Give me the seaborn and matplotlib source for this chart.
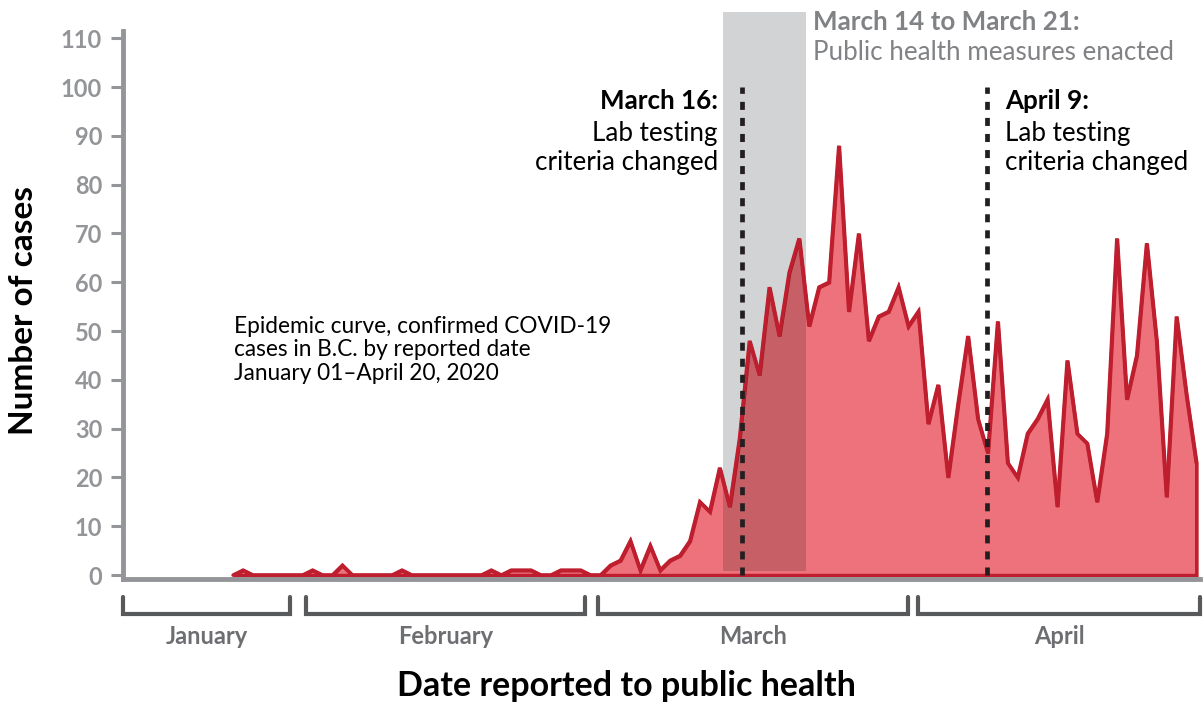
import numpy as np
import pandas as pd
import seaborn as sns
import matplotlib.pyplot as plt
from matplotlib.patches import Rectangle
from matplotlib.lines import Line2D

sns.set_theme(style='white')
plt.rcParams['font.family'] = ['Lato', 'DejaVu Sans']

# daily confirmed cases, day index 13 .. 110 (day 0 = January 1)
first_day = 13
cases = [0, 1, 0, 0, 0, 0, 0, 0, 1, 0, 0, 2, 0, 0, 0, 0, 0, 1, 0, 0,
         0, 0, 0, 0, 0, 0, 1, 0, 1, 1, 1, 0, 0, 1, 1, 1, 0, 0, 2, 3,
         7, 1, 6, 1, 3, 4, 7, 15, 13, 22, 14, 28, 48, 41, 59, 49, 62, 69, 51, 59,
         60, 88, 54, 70, 48, 53, 54, 59, 51, 54, 31, 39, 20, 35, 49, 32, 25, 52, 23, 20,
         29, 32, 36, 14, 44, 29, 27, 15, 29, 69, 36, 45, 68, 48, 16, 53, 37, 23]
days = list(range(first_day, first_day + len(cases)))

months = ['January', 'February', 'March', 'April']
y_ticks = list(range(0, 111, 10))

# annotation positions on the day axis
event_days = [64.25, 88.9]
event_titles = ['March 16:', 'April 9:']
shade_days = (62.3, 70.7)

df = pd.DataFrame({'day': days, 'cases': cases})

RED = '#BE1E2D'
PINK = '#EE727B'
AXIS = '#939598'
W, H = 1204, 704

def fx(x):
    return x / W

def fy(y):
    return 1 - y / H

fig = plt.figure(figsize=(W / 100, H / 100), dpi=100)
ax = fig.add_axes([fx(123), fy(579), (1200 - 123) / W, (579 - 9) / H])

# grey box for the measures period
ax.add_patch(Rectangle((shade_days[0], 0.8), shade_days[1] - shade_days[0], 114.6,
                       facecolor='#D1D3D4', edgecolor='none', zorder=1))

poly = ax.fill_between(df['day'], df['cases'], 0, facecolor=PINK, edgecolor=RED,
                       linewidth=2.6, joinstyle='miter', zorder=2)

# darker pink where the box overlaps the curve
ov = Rectangle((shade_days[0], 0.8), shade_days[1] - shade_days[0], 114.6,
               facecolor='black', alpha=0.16, edgecolor='none', zorder=2.5)
ax.add_patch(ov)
ov.set_clip_path(poly.get_paths()[0], ax.transData)

sns.lineplot(data=df, x='day', y='cases', ax=ax, color=RED, linewidth=2.6,
             solid_joinstyle='miter', zorder=3)

for d in event_days:
    ax.plot([d, d], [0, 100], color='#231F20', linewidth=3.4,
            linestyle=(0, (1.7, 1.7)), dash_capstyle='butt', zorder=4)

ax.set_xlim(1.91, 110.37)
ax.set_ylim(-0.8, 116)
ax.set_xticks([])
ax.set_yticks(y_ticks)
ax.set_xlabel('')
ax.set_ylabel('')
for s in ['top', 'right']:
    ax.spines[s].set_visible(False)
for s in ['left', 'bottom']:
    ax.spines[s].set_color(AXIS)
    ax.spines[s].set_linewidth(3.5)
ax.spines['left'].set_bounds(-0.8, 111.5)
ax.tick_params(axis='y', left=True, length=9, width=2.2, color=AXIS,
               labelcolor=AXIS, labelsize=17, pad=6)
for lab in ax.get_yticklabels():
    lab.set_fontweight('bold')

# month brackets under the axis
bracket_px = [(123, 290), (306, 585), (598, 908), (918, 1200)]
for name, (x0, x1) in zip(months, bracket_px):
    fig.add_artist(Line2D([fx(x0), fx(x0), fx(x1), fx(x1)],
                          [fy(597), fy(614), fy(614), fy(597)],
                          color='#58595B', linewidth=3, solid_joinstyle='miter'))
    fig.text(fx((x0 + x1) / 2), fy(637), name, ha='center', va='center',
             fontsize=17, fontweight='bold', color='#6D6E71')

fig.text(fx(626), fy(686), 'Date reported to public health', ha='center', va='center',
         fontsize=24.5, fontweight='bold', color='black')
fig.text(fx(24), fy(310), 'Number of cases', ha='center', va='center', rotation=90,
         fontsize=24, fontweight='bold', color='black')

# event notes
fig.text(fx(718), fy(101), event_titles[0], ha='right', va='center',
         fontsize=18.7, fontweight='bold', color='black')
fig.text(fx(718), fy(148), 'Lab testing\ncriteria changed', ha='right', va='center',
         fontsize=18.7, color='black', linespacing=1.2)
fig.text(fx(1005), fy(101), event_titles[1], ha='left', va='center',
         fontsize=18.7, fontweight='bold', color='black')
fig.text(fx(1005), fy(148), 'Lab testing\ncriteria changed', ha='left', va='center',
         fontsize=18.7, color='black', linespacing=1.2)

fig.text(fx(813), fy(22), 'March 14 to March 21:', ha='left', va='center',
         fontsize=18.7, fontweight='bold', color='#808285')
fig.text(fx(813), fy(53), 'Public health measures enacted', ha='left', va='center',
         fontsize=18.7, color='#808285')

fig.text(fx(234), fy(350), 'Epidemic curve, confirmed COVID-19\ncases in B.C. by reported date\n'
         'January 01\u2013April 20, 2020', ha='left', va='center',
         fontsize=16.3, color='black', linespacing=1.12)

fig.savefig('out.png', dpi=100)
